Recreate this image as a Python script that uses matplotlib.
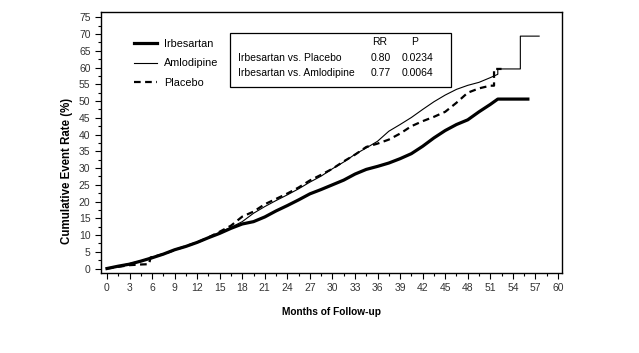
import matplotlib.pyplot as plt
from matplotlib.patches import Rectangle

# values (months, cumulative event rate %)
irb_months = [0, 1.5, 3, 4.5, 6, 7.5, 9, 10.5, 12, 13.5, 15, 16.5, 18, 19.5, 21,
              22.5, 24, 25.5, 27, 28.5, 30, 31.5, 33, 34.5, 36, 37.5, 39, 40.5,
              42, 43.5, 45, 46.5, 48, 49.5, 51, 52, 56]
irb_rate = [0, 0.7, 1.3, 2.2, 3.2, 4.3, 5.6, 6.6, 7.8, 9.2, 10.5, 12.0, 13.3, 14.0,
            15.4, 17.2, 18.8, 20.5, 22.3, 23.6, 25.0, 26.4, 28.2, 29.6, 30.5,
            31.5, 32.8, 34.3, 36.5, 39.0, 41.2, 43.0, 44.4, 46.8, 49.0, 50.6, 50.6]

aml_months = [0, 1.5, 3, 4.5, 6, 7.5, 9, 10.5, 12, 13.5, 15, 16.5, 18, 19.5, 21,
              22.5, 24, 25.5, 27, 28.5, 30, 31.5, 33, 34.5, 36, 37.5, 39, 40.5,
              42, 43.5, 45, 46.5, 48, 49.5, 51, 52, 52, 55, 55, 57.5]
aml_rate = [0, 0.7, 1.5, 2.3, 3.3, 4.4, 5.6, 6.7, 7.8, 9.2, 10.8, 12.3, 14.0, 16.5,
            18.5, 20.3, 22.0, 23.8, 25.8, 27.6, 29.8, 31.8, 34.1, 36.0, 38.0,
            41.0, 43.0, 45.1, 47.5, 49.8, 51.8, 53.5, 54.7, 55.6, 57.0, 58.0,
            59.6, 59.6, 69.4, 69.4]

pla_months = [0, 1.5, 3, 4.5, 5.6, 5.8, 7.5, 9, 10.5, 12, 13.5, 15, 16.5, 18, 19.5,
              21, 22.5, 24, 25.5, 27, 28.5, 30, 31.5, 33, 34.5, 36, 37.5, 39,
              40.5, 42, 43.5, 45, 46.5, 48, 49.5, 51, 51.5, 51.5, 52.5]
pla_rate = [0, 0.5, 1.0, 1.2, 1.3, 3.3, 4.3, 5.5, 6.7, 7.8, 9.3, 11.0, 12.8, 15.5,
            17.0, 19.2, 20.8, 22.4, 24.2, 26.3, 28.0, 29.8, 32.0, 34.0, 36.3,
            37.3, 38.5, 40.3, 42.5, 44.0, 45.3, 46.8, 49.5, 52.5, 53.8, 54.6,
            54.6, 59.6, 59.6]

stats_rows = ["Irbesartan vs. Placebo", "Irbesartan vs. Amlodipine"]
stats_rr = ["0.80", "0.77"]
stats_p = ["0.0234", "0.0064"]

plt.rcParams['font.family'] = ['Liberation Sans', 'DejaVu Sans']

fig = plt.figure(figsize=(6.39, 3.53), dpi=100)
ax = fig.add_axes([0.158, 0.227, 0.721, 0.738])

ax.plot(irb_months, irb_rate, color='black', lw=2.3, label='Irbesartan')
ax.plot(aml_months, aml_rate, color='black', lw=0.8, label='Amlodipine')
ax.plot(pla_months, pla_rate, color='black', lw=1.6, linestyle=(0, (3, 2)),
        label='Placebo')

ax.set_xlim(-0.8, 60.5)
ax.set_ylim(-1.3, 76.5)
ax.set_xticks(range(0, 61, 3))
ax.set_xticks([x + 1.5 for x in range(0, 60, 3)], minor=True)
ax.set_yticks(range(0, 76, 5))
ax.set_yticks([y + 2.5 for y in range(0, 75, 5)], minor=True)
ax.tick_params(which='major', length=4, width=0.8, labelsize=7.5,
               labelcolor='#333333')
ax.tick_params(which='minor', length=2.5, width=0.8)
for s in ax.spines.values():
    s.set_linewidth(1.0)

ax.set_xlabel('Months of Follow-up', fontsize=7.3, fontweight='bold', labelpad=10)
ax.set_ylabel('Cumulative Event Rate (%)', fontsize=8.3, fontweight='bold')
ax.yaxis.set_label_coords(-0.061, 0.39)

ax.legend(loc='upper left', bbox_to_anchor=(0.051, 0.935), frameon=False,
          fontsize=7.8, handlelength=2.1, handletextpad=0.65,
          labelspacing=0.86)

# statistics box
ax.add_patch(Rectangle((0.281, 0.715), 0.478, 0.207, transform=ax.transAxes,
                       fill=False, lw=0.9, color='black'))
ax.text(0.605, 0.885, 'RR', transform=ax.transAxes, ha='center', va='center',
        fontsize=7.5)
ax.text(0.68, 0.885, 'P', transform=ax.transAxes, ha='center', va='center',
        fontsize=7.5)
for i, (row, rr, p) in enumerate(zip(stats_rows, stats_rr, stats_p)):
    yy = 0.826 - i * 0.06
    ax.text(0.297, yy, row, transform=ax.transAxes, ha='left', va='center',
            fontsize=7.5)
    ax.text(0.607, yy, rr, transform=ax.transAxes, ha='center', va='center',
            fontsize=7.5)
    ax.text(0.687, yy, p, transform=ax.transAxes, ha='center', va='center',
            fontsize=7.5)

fig.savefig('out.png', dpi=100)
